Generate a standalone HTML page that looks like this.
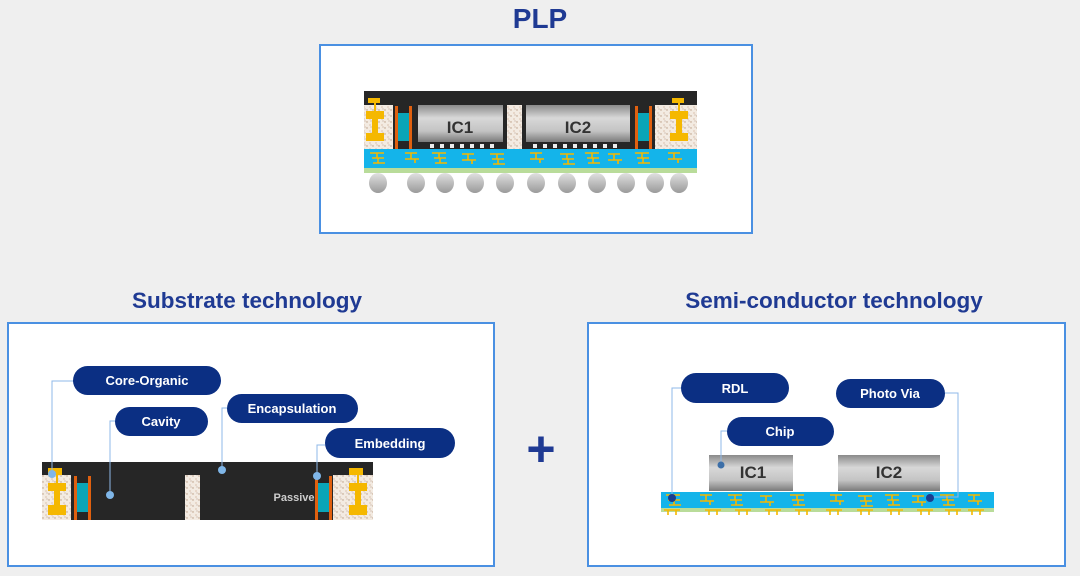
<!DOCTYPE html>
<html><head><meta charset="utf-8"><style>
html,body{margin:0;padding:0;background:#efefef;width:1080px;height:576px;overflow:hidden}
svg{display:block}
text{font-family:"Liberation Sans",Arial,sans-serif;font-weight:bold}
</style></head><body>
<svg width="1080" height="576" viewBox="0 0 1080 576" xmlns="http://www.w3.org/2000/svg">
<defs>
<linearGradient id="ic" x1="0" y1="0" x2="0" y2="1">
<stop offset="0" stop-color="#8a8a8a"/><stop offset="0.35" stop-color="#d8d8d8"/><stop offset="0.7" stop-color="#c4c4c4"/><stop offset="1" stop-color="#7a7a7a"/></linearGradient>
<linearGradient id="ball" x1="0" y1="0" x2="0" y2="1"><stop offset="0" stop-color="#e0e0e0"/><stop offset="1" stop-color="#9a9a9a"/></linearGradient>
<pattern id="core" width="6" height="6" patternUnits="userSpaceOnUse"><rect width="6" height="6" fill="#f3ebe2"/><circle cx="1" cy="2" r="0.7" fill="#b89a80"/><circle cx="4" cy="5" r="0.6" fill="#c9a58a"/><circle cx="5" cy="1" r="0.5" fill="#a08878"/></pattern>
<g id="trace"><path d="M0 0h14M7 0v5M2 5h12M8 5v5M3 10h12" stroke="#f5b800" stroke-width="1.6" fill="none"/></g>
<g id="trace2"><path d="M0 0h12M6 0v6M0 6h14M10 6v4" stroke="#f5b800" stroke-width="1.6" fill="none"/></g>
<g id="leg"><path d="M0 0h16M4 0v5M12 0v5" stroke="#f5b800" stroke-width="1.6" fill="none"/></g>
</defs>

<!-- PLP -->
<text x="540" y="28" font-size="28" fill="#1f3a93" text-anchor="middle">PLP</text>
<rect x="320" y="45" width="432" height="188" fill="#fff" stroke="#4a90e2" stroke-width="2"/>
<rect x="364" y="91" width="333" height="14" fill="#262626"/>
<rect x="393" y="105" width="262" height="45" fill="#262626"/>
<rect x="364" y="105" width="29" height="45" fill="url(#core)"/>
<rect x="655" y="105" width="42" height="45" fill="url(#core)"/>
<rect x="507" y="105" width="15" height="45" fill="url(#core)"/>
<path d="M368 98h12v5h-4v8h8v8h-6v14h6v8h-18v-8h6v-14h-6v-8h8v-8h-6z" fill="#f5b800"/>
<path d="M672 98h12v5h-4v8h8v8h-6v14h6v8h-18v-8h6v-14h-6v-8h8v-8h-6z" fill="#f5b800"/>
<rect x="395" y="106" width="3" height="43" fill="#e0600f"/><rect x="409" y="106" width="3" height="43" fill="#e0600f"/>
<rect x="398" y="113" width="11" height="28" fill="#0aa5b8"/>
<rect x="635" y="106" width="3" height="43" fill="#e0600f"/><rect x="649" y="106" width="3" height="43" fill="#e0600f"/>
<rect x="638" y="113" width="11" height="28" fill="#0aa5b8"/>
<rect x="418" y="105" width="85" height="37" fill="url(#ic)"/>
<rect x="526" y="105" width="104" height="37" fill="url(#ic)"/>
<text x="460" y="133" font-size="17" fill="#333" text-anchor="middle">IC1</text>
<text x="578" y="133" font-size="17" fill="#333" text-anchor="middle">IC2</text>
<g fill="#eee"><rect x="430" y="144" width="4" height="4"/><rect x="440" y="144" width="4" height="4"/><rect x="450" y="144" width="4" height="4"/><rect x="460" y="144" width="4" height="4"/><rect x="470" y="144" width="4" height="4"/><rect x="480" y="144" width="4" height="4"/><rect x="490" y="144" width="4" height="4"/>
<rect x="533" y="144" width="4" height="4"/><rect x="543" y="144" width="4" height="4"/><rect x="553" y="144" width="4" height="4"/><rect x="563" y="144" width="4" height="4"/><rect x="573" y="144" width="4" height="4"/><rect x="583" y="144" width="4" height="4"/><rect x="593" y="144" width="4" height="4"/><rect x="603" y="144" width="4" height="4"/><rect x="613" y="144" width="4" height="4"/></g>
<rect x="364" y="149" width="333" height="19" fill="#14b4ea"/>
<rect x="364" y="168" width="333" height="5" fill="#b9dc9a"/>
<g>
<use href="#trace" x="370" y="153"/><use href="#trace2" x="405" y="153"/><use href="#trace" x="432" y="153"/><use href="#trace2" x="462" y="154"/><use href="#trace" x="490" y="154"/>
<use href="#trace2" x="530" y="153"/><use href="#trace" x="560" y="154"/><use href="#trace" x="585" y="153"/><use href="#trace2" x="608" y="154"/><use href="#trace" x="635" y="153"/><use href="#trace2" x="668" y="153"/>
</g>
<g fill="url(#ball)">
<ellipse cx="378" cy="183" rx="9" ry="10"/><ellipse cx="416" cy="183" rx="9" ry="10"/><ellipse cx="445" cy="183" rx="9" ry="10"/><ellipse cx="475" cy="183" rx="9" ry="10"/><ellipse cx="505" cy="183" rx="9" ry="10"/><ellipse cx="536" cy="183" rx="9" ry="10"/><ellipse cx="567" cy="183" rx="9" ry="10"/><ellipse cx="597" cy="183" rx="9" ry="10"/><ellipse cx="626" cy="183" rx="9" ry="10"/><ellipse cx="655" cy="183" rx="9" ry="10"/><ellipse cx="679" cy="183" rx="9" ry="10"/>
</g>

<!-- Substrate -->
<text x="247" y="308" font-size="22.5" fill="#1f3a93" text-anchor="middle">Substrate technology</text>
<rect x="8" y="323" width="486" height="243" fill="#fff" stroke="#4a90e2" stroke-width="2"/>
<rect x="42" y="462" width="331" height="13" fill="#262626"/>
<rect x="71" y="475" width="262" height="45" fill="#262626"/>
<rect x="42" y="475" width="29" height="45" fill="url(#core)"/>
<rect x="333" y="475" width="40" height="45" fill="url(#core)"/>
<rect x="185" y="475" width="15" height="45" fill="url(#core)"/>
<path d="M48 468h14v7h-4v8h8v8h-6v14h6v10h-18v-10h6v-14h-6v-8h8v-8h-8z" fill="#f5b800"/>
<path d="M349 468h14v7h-4v8h8v8h-6v14h6v10h-18v-10h6v-14h-6v-8h8v-8h-8z" fill="#f5b800"/>
<rect x="74" y="476" width="3" height="44" fill="#e0600f"/><rect x="88" y="476" width="3" height="44" fill="#e0600f"/>
<rect x="77" y="483" width="11" height="29" fill="#0aa5b8"/>
<rect x="315" y="476" width="3" height="44" fill="#e0600f"/><rect x="329" y="476" width="3" height="44" fill="#e0600f"/>
<rect x="318" y="483" width="11" height="29" fill="#0aa5b8"/>
<text x="294" y="501" font-size="11" fill="#ccc" text-anchor="middle">Passive</text>
<g stroke="#8fb8e8" stroke-width="1" fill="none">
<path d="M73 381H52V474"/><path d="M115 421H110V495"/><path d="M227 408H222V470"/><path d="M325 445H317V476"/>
</g>
<g fill="#7fb6e8"><circle cx="52" cy="474" r="4"/><circle cx="110" cy="495" r="4"/><circle cx="222" cy="470" r="4"/><circle cx="317" cy="476" r="4"/></g>
<g fill="#0b2f83">
<rect x="73" y="366" width="148" height="29" rx="14.5"/><rect x="115" y="407" width="93" height="29" rx="14.5"/>
<rect x="227" y="394" width="131" height="29" rx="14.5"/><rect x="325" y="428" width="130" height="30" rx="15"/>
</g>
<g fill="#fff" font-size="13" text-anchor="middle">
<text x="147" y="385">Core-Organic</text><text x="161" y="426">Cavity</text><text x="292" y="413">Encapsulation</text><text x="390" y="448">Embedding</text>
</g>

<!-- plus -->
<text x="541" y="466" font-size="50" fill="#1f3a93" text-anchor="middle">+</text>

<!-- Semi -->
<text x="834" y="308" font-size="22.5" fill="#1f3a93" text-anchor="middle">Semi-conductor technology</text>
<rect x="588" y="323" width="477" height="243" fill="#fff" stroke="#4a90e2" stroke-width="2"/>
<rect x="709" y="455" width="84" height="36" fill="url(#ic)"/>
<rect x="838" y="455" width="102" height="36" fill="url(#ic)"/>
<text x="753" y="478" font-size="17" fill="#333" text-anchor="middle">IC1</text>
<text x="889" y="478" font-size="17" fill="#333" text-anchor="middle">IC2</text>
<rect x="661" y="492" width="333" height="16" fill="#14b4ea"/>
<rect x="661" y="508" width="333" height="4" fill="#b9dc9a"/>
<g>
<use href="#trace" x="666" y="495"/><use href="#trace2" x="700" y="495"/><use href="#trace" x="728" y="495"/><use href="#trace2" x="760" y="496"/><use href="#trace" x="790" y="495"/>
<use href="#trace2" x="830" y="495"/><use href="#trace" x="858" y="496"/><use href="#trace" x="885" y="495"/><use href="#trace2" x="912" y="496"/><use href="#trace" x="940" y="495"/><use href="#trace2" x="968" y="495"/>
<use href="#leg" x="664" y="510"/><use href="#leg" x="705" y="510"/><use href="#leg" x="735" y="510"/><use href="#leg" x="765" y="510"/><use href="#leg" x="795" y="510"/><use href="#leg" x="826" y="510"/><use href="#leg" x="857" y="510"/><use href="#leg" x="887" y="510"/><use href="#leg" x="917" y="510"/><use href="#leg" x="945" y="510"/><use href="#leg" x="968" y="510"/>
</g>
<g stroke="#8fb8e8" stroke-width="1" fill="none">
<path d="M681 388H672V498"/><path d="M945 393H958V497H930"/><path d="M727 431H721V465"/>
</g>
<g fill="#1a3d8f"><circle cx="672" cy="498" r="4"/><circle cx="930" cy="498" r="4"/></g>
<circle cx="721" cy="465" r="3.5" fill="#3d6fa8"/>
<g fill="#0b2f83">
<rect x="681" y="373" width="108" height="30" rx="15"/><rect x="836" y="379" width="109" height="29" rx="14.5"/><rect x="727" y="417" width="107" height="29" rx="14.5"/>
</g>
<g fill="#fff" font-size="13" text-anchor="middle">
<text x="735" y="393">RDL</text><text x="890" y="398">Photo Via</text><text x="780" y="436">Chip</text>
</g>
</svg>
</body></html>
